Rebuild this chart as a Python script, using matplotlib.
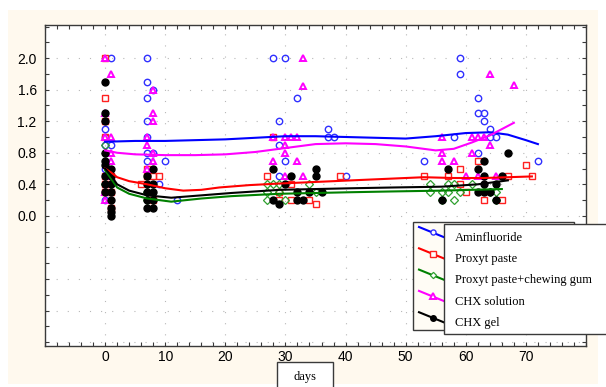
import matplotlib
matplotlib.use("Agg")
import matplotlib.pyplot as plt
from matplotlib.patches import Rectangle
from matplotlib.lines import Line2D
from matplotlib.ticker import MultipleLocator, FixedLocator, FuncFormatter

# ---------------- data ----------------
groups = ["Aminfluoride", "Proxyt paste", "Proxyt paste+chewing gum", "CHX solution", "CHX gel"]

amin_day = [0, 0, 0, 0, 0, 0, 1, 1, 1, 7, 7, 7, 7, 7, 7, 7, 8, 8, 9, 10, 12,
            28, 29, 29, 29, 30, 30, 32, 37, 37, 38, 40,
            53, 58, 59, 59, 62, 62, 62, 63, 63, 64, 64, 65, 72]
amin_val = [1.1, 1.0, 0.9, 0.6, 0.3, 0.2, 2.0, 0.9, 0.4, 2.0, 1.7, 1.5, 1.2, 1.0, 0.8, 0.7, 1.6, 0.8, 0.4, 0.7, 0.2,
            2.0, 1.2, 0.9, 0.5, 2.0, 0.7, 1.5, 1.1, 1.0, 1.0, 0.5,
            0.7, 1.0, 2.0, 1.8, 1.5, 1.3, 0.8, 1.3, 1.2, 1.1, 1.0, 1.0, 0.7]

prox_day = [0, 0, 0, 0, 0, 0, 0, 1, 1, 1, 6, 7, 7, 8, 8, 9,
            27, 28, 29, 29, 31, 31, 34, 35, 39,
            53, 57, 59, 59, 60, 62, 63, 66, 67, 70, 71]
prox_val = [2.0, 1.5, 1.2, 1.0, 0.5, 0.4, 0.3, 0.5, 0.3, 0.1, 0.4, 0.6, 0.5, 0.5, 0.2, 0.5,
            0.5, 1.0, 0.3, 0.2, 0.4, 0.2, 0.2, 0.15, 0.5,
            0.5, 0.5, 0.6, 0.4, 0.3, 0.7, 0.2, 0.2, 0.5, 0.65, 0.5]

gum_day = [0, 0, 1, 1, 7, 7, 8,
           27, 27, 27, 28, 29, 29, 30, 34, 35,
           54, 54, 56, 56, 57, 57, 58, 58, 59, 61, 64, 65, 65]
gum_val = [0.9, 0.4, 0.4, 0.5, 0.3, 0.2, 0.2,
           0.4, 0.3, 0.2, 0.4, 0.4, 0.3, 0.2, 0.4, 0.3,
           0.3, 0.4, 0.3, 0.2, 0.4, 0.3, 0.4, 0.2, 0.3, 0.4, 0.3, 0.3, 0.2]

chxs_day = [0, 0, 0, 0, 0, 1, 1, 1, 1, 1, 7, 7, 7, 8, 8, 8, 8, 8,
            28, 28, 30, 30, 30, 30, 31, 32, 32, 33, 33, 33,
            56, 56, 56, 58, 60, 61, 61, 62, 62, 63, 64, 64, 65, 68]
chxs_val = [2.0, 1.3, 1.0, 0.3, 0.2, 1.8, 1.0, 0.8, 0.7, 0.5, 1.0, 0.9, 0.6, 1.6, 1.3, 1.2, 0.8, 0.7,
            1.0, 0.7, 1.0, 0.9, 0.8, 0.5, 1.0, 1.0, 0.7, 2.0, 1.65, 0.5,
            1.0, 0.8, 0.7, 0.7, 0.5, 1.0, 0.8, 1.0, 0.5, 1.0, 1.8, 0.9, 0.5, 1.66]

chxg_day = [0, 0, 0, 0, 0, 0, 0, 0, 0, 1, 1, 1, 1, 1, 1, 1, 1,
            7, 7, 7, 7, 7, 8, 8, 8, 8, 8,
            28, 28, 29, 30, 31, 32, 32, 33, 34, 35, 35, 36,
            56, 57, 62, 62, 63, 63, 63, 63, 64, 65, 65, 66, 67]
chxg_val = [1.7, 1.3, 1.2, 0.8, 0.7, 0.65, 0.5, 0.4, 0.3, 0.6, 0.5, 0.4, 0.3, 0.2, 0.1, 0.05, 0.0,
            0.5, 0.4, 0.3, 0.2, 0.1, 0.6, 0.4, 0.3, 0.2, 0.1,
            0.6, 0.2, 0.15, 0.4, 0.5, 0.3, 0.2, 0.2, 0.3, 0.6, 0.5, 0.3,
            0.2, 0.6, 0.6, 0.3, 0.7, 0.5, 0.4, 0.3, 0.3, 0.4, 0.2, 0.5, 0.8]

# smoothed fit curves
amin_fit_day = [0, 5, 10, 15, 20, 25, 30, 35, 40, 45, 50, 55, 60, 64, 67, 70, 72]
amin_fit = [0.94, 0.95, 0.95, 0.96, 0.97, 0.99, 1.01, 1.01, 1.0, 0.99, 0.98, 1.01, 1.05, 1.06, 1.03, 0.96, 0.91]

prox_fit_day = [0, 1, 2, 4, 7, 10, 13, 16, 19, 24, 29, 35, 41, 47, 53, 58, 63, 67, 71]
prox_fit = [0.60, 0.55, 0.49, 0.44, 0.40, 0.35, 0.32, 0.33, 0.36, 0.39, 0.41, 0.43, 0.45, 0.47, 0.49, 0.48, 0.48, 0.49, 0.50]

gum_fit_day = [0, 1, 2, 4, 7, 11, 16, 21, 29, 35, 41, 48, 56, 61, 66]
gum_fit = [0.58, 0.47, 0.36, 0.28, 0.22, 0.18, 0.22, 0.25, 0.28, 0.29, 0.30, 0.31, 0.32, 0.33, 0.34]

chxs_fit_day = [0, 2, 5, 10, 15, 20, 25, 30, 35, 40, 45, 50, 55, 58, 61, 64, 66, 68]
chxs_fit = [0.83, 0.80, 0.78, 0.77, 0.77, 0.78, 0.81, 0.86, 0.91, 0.92, 0.91, 0.88, 0.83, 0.85, 0.93, 1.02, 1.10, 1.18]

chxg_fit_day = [0, 1, 2, 4, 7, 11, 16, 21, 29, 35, 41, 48, 56, 62, 67]
chxg_fit = [0.60, 0.51, 0.40, 0.32, 0.26, 0.23, 0.26, 0.29, 0.33, 0.34, 0.35, 0.36, 0.37, 0.40, 0.45]

ytick_vals = [0.0, 0.4, 0.8, 1.2, 1.6, 2.0]
xtick_vals = [0, 10, 20, 30, 40, 50, 60, 70]

# ---------------- styling ----------------
W, H = 606, 387
CREAM = "#FFF9EE"
FRAME = "#3a3a3a"
colors = ["#0000FF", "#FF0000", "#008000", "#FF00FF", "#000000"]
markers = ["o", "s", "D", "^", "o"]
msizes = [4.6, 4.6, 4.0, 5.0, 5.0]
faces = ["none", "none", "none", "none", "#000000"]
edges = ["#3030FF", "#FF2020", "#30A030", "#FF00FF", "#000000"]
mews = [1.0, 1.0, 0.9, 1.4, 1.0]

def fx(px):
    return px / W

def fy(py):
    return 1 - py / H

fig = plt.figure(figsize=(W / 100, H / 100), dpi=100, facecolor="white")
fig.patches.append(Rectangle((fx(8), fy(384)), (598 - 8) / W, (384 - 10) / H,
                             transform=fig.transFigure, facecolor=CREAM, edgecolor="none", zorder=-10))

ax = fig.add_axes([fx(45), fy(346), (586 - 45) / W, (346 - 25) / H])
ax.set_zorder(1)
ax.set_facecolor("white")
ax.set_xlim(-10, 80)
ax.set_ylim(-1.65, 2.42)

series = [
    (amin_day, amin_val, amin_fit_day, amin_fit),
    (prox_day, prox_val, prox_fit_day, prox_fit),
    (gum_day, gum_val, gum_fit_day, gum_fit),
    (chxs_day, chxs_val, chxs_fit_day, chxs_fit),
    (chxg_day, chxg_val, chxg_fit_day, chxg_fit),
]
for i, (d, v, fd, fv) in enumerate(series):
    ax.plot(d, v, linestyle="none", marker=markers[i], ms=msizes[i], mfc=faces[i],
            mec=edges[i], mew=mews[i], zorder=3 + i * 0.1)
for i, (d, v, fd, fv) in enumerate(series):
    ax.plot(fd, fv, color=colors[i], lw=1.5, zorder=5)

# ticks / grid
ax.xaxis.set_major_locator(FixedLocator([-10] + xtick_vals + [80]))
ax.xaxis.set_major_formatter(FuncFormatter(lambda x, p: f"{x:.0f}" if 0 <= x <= 70 else ""))
ax.xaxis.set_minor_locator(MultipleLocator(2))
grid_y = [-1.6, -1.2, -0.8, -0.4] + ytick_vals
ax.yaxis.set_major_locator(FixedLocator(grid_y))
ax.yaxis.set_major_formatter(FuncFormatter(lambda y, p: f"{y:.1f}" if y > -0.05 else ""))
ax.yaxis.set_minor_locator(MultipleLocator(0.2))
ax.tick_params(which="both", direction="in", top=True, right=True, length=3, width=0.8,
               color=FRAME, labelsize=10, pad=6)
ax.tick_params(axis="x", pad=3)
for lab in ax.get_xticklabels() + ax.get_yticklabels():
    lab.set_fontfamily("Liberation Sans")
ax.grid(True, which="major", color="#b8b8b8", linestyle=(0, (1, 9)), lw=0.8)
ax.set_axisbelow(True)
for s in ax.spines.values():
    s.set_color(FRAME)
    s.set_linewidth(1.0)

# legend (two offset boxes, as in the original)
fig.patches.append(Rectangle((fx(413), fy(330)), (574 - 413) / W, (330 - 222) / H,
                             transform=fig.transFigure, facecolor="#FFFCF5", edgecolor=FRAME,
                             lw=1.0, zorder=10))
for i in range(5):
    y0 = 227 + 21.3 * i
    fig.add_artist(Line2D([fx(419), fx(446)], [fy(y0), fy(y0 + 11)], transform=fig.transFigure,
                          color=colors[i], lw=1.5, zorder=11))
    fig.add_artist(Line2D([fx(432.5)], [fy(y0 + 5.5)], transform=fig.transFigure,
                          marker=markers[i], ms=msizes[i] * 0.8, mfc=faces[i] if faces[i] != "none" else "white",
                          mec=edges[i], mew=mews[i], linestyle="none", zorder=11))
fig.patches.append(Rectangle((fx(444), fy(334)), (610 - 444) / W, (334 - 224) / H,
                             transform=fig.transFigure, facecolor="white", edgecolor=FRAME,
                             lw=1.0, zorder=12))
for i, g in enumerate(groups):
    fig.text(fx(455), fy(238 + 21.2 * i), g, fontsize=9, family="Liberation Serif",
             va="center", ha="left", zorder=13)

# x label in its own box
fig.patches.append(Rectangle((fx(277), fy(390)), (333 - 277) / W, (390 - 362) / H,
                             transform=fig.transFigure, facecolor="white", edgecolor=FRAME,
                             lw=1.0, zorder=12))
fig.text(fx(305), fy(377), "days", fontsize=9, family="Liberation Serif",
         va="center", ha="center", zorder=13)

fig.savefig("out.png", dpi=100, facecolor="white")
